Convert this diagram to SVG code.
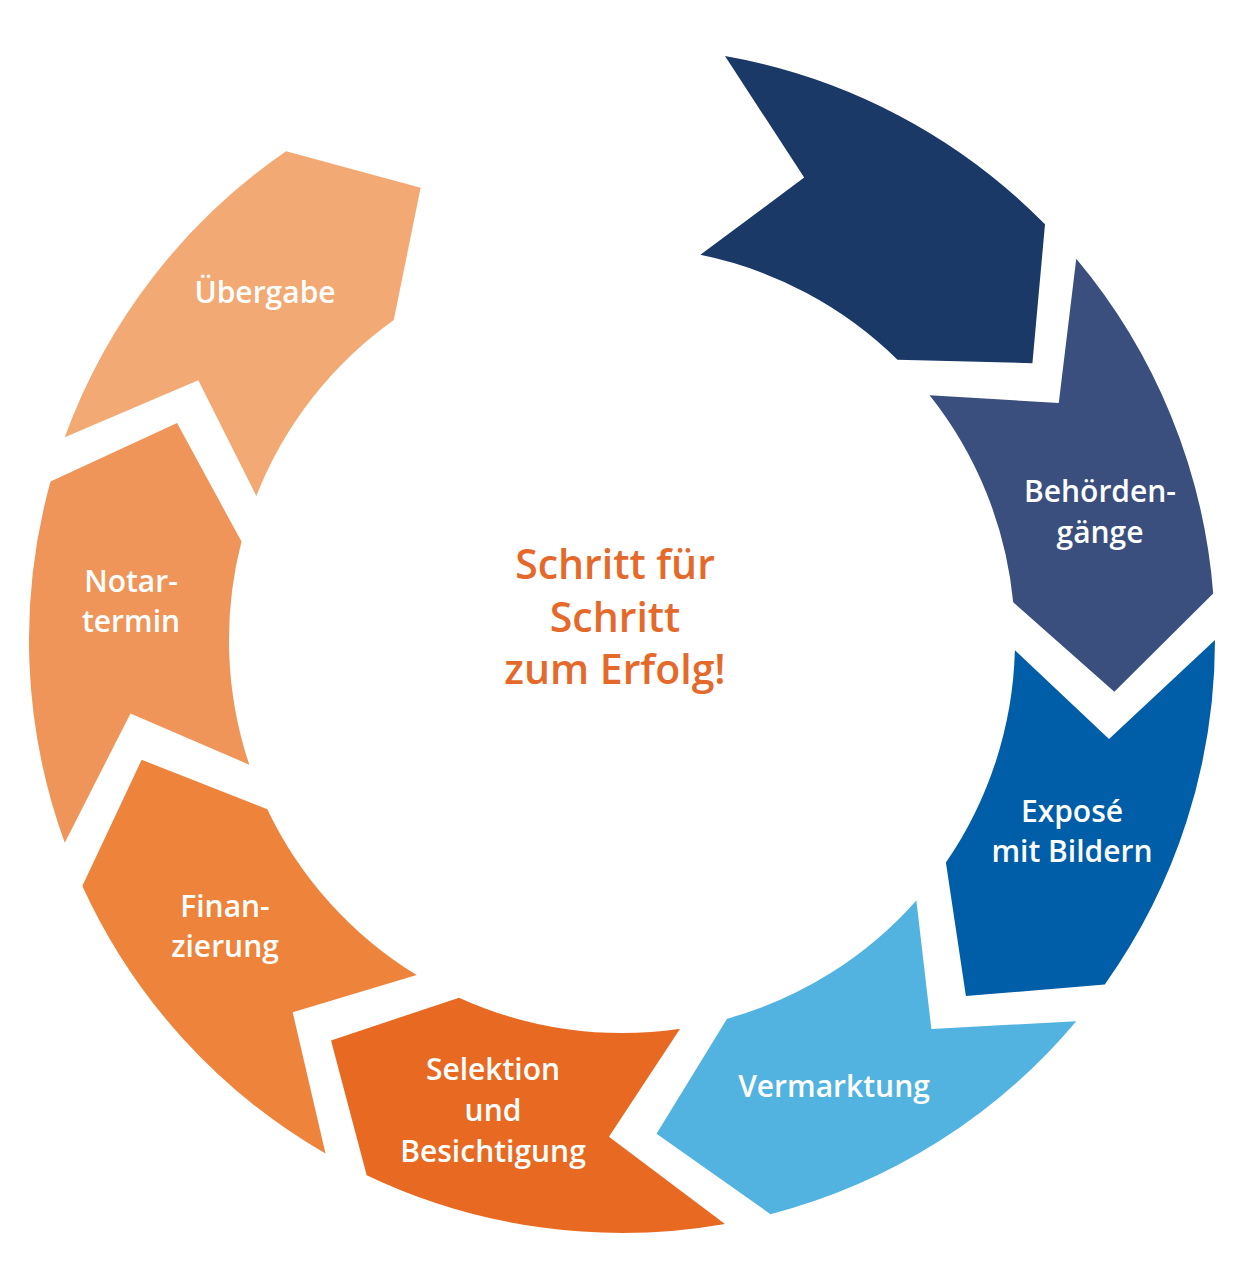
<svg xmlns="http://www.w3.org/2000/svg" xmlns:xlink="http://www.w3.org/1999/xlink" width="1249" height="1280" viewBox="0 0 1249 1280">
<defs>
<style>
.l{font-family:"Open Sans","Liberation Sans",sans-serif;font-weight:600;font-size:30px;fill:#fff;text-anchor:middle}
.c{font-family:"Open Sans","Liberation Sans",sans-serif;font-weight:600;font-size:41px;fill:#e4692a;text-anchor:middle}
</style>
<path id="seg" d="M622,47 A593,593 0 0 1 966.4,157.2 L978.1,296.1 L844.6,316.1 A393,393 0 0 0 632.3,247.1 L721.1,153 Z"/>
</defs>
<rect width="1249" height="1280" fill="#fff"/>
<g id="s1"><use xlink:href="#seg" href="#seg" transform="rotate(10 622 640)" fill="#1b3967"/></g>
<g id="s2"><use xlink:href="#seg" href="#seg" transform="rotate(50 622 640)" fill="#3a4f7e"/>
<text class="l" x="1100" y="502">Behörden-</text><text class="l" x="1100" y="543">gänge</text></g>
<g id="s3"><use xlink:href="#seg" href="#seg" transform="rotate(90 622 640)" fill="#005ea8"/>
<text class="l" x="1072" y="822">Exposé</text><text class="l" x="1072" y="862">mit Bildern</text></g>
<g id="s4"><use xlink:href="#seg" href="#seg" transform="rotate(130 622 640)" fill="#52b3e0"/>
<text class="l" x="834" y="1097">Vermarktung</text></g>
<g id="s5"><use xlink:href="#seg" href="#seg" transform="rotate(170 622 640)" fill="#e86a22"/>
<text class="l" x="493" y="1080">Selektion</text><text class="l" x="493" y="1121">und</text><text class="l" x="493" y="1162">Besichtigung</text></g>
<g id="s6"><use xlink:href="#seg" href="#seg" transform="rotate(210 622 640)" fill="#ee833c"/>
<text class="l" x="225" y="917">Finan-</text><text class="l" x="225" y="957">zierung</text></g>
<g id="s7"><use xlink:href="#seg" href="#seg" transform="rotate(250 622 640)" fill="#f0955a"/>
<text class="l" x="131" y="592">Notar-</text><text class="l" x="131" y="632">termin</text></g>
<g id="s8"><use xlink:href="#seg" href="#seg" transform="rotate(290 622 640)" fill="#f3a973"/>
<text class="l" x="265" y="303">Übergabe</text></g>
<g id="center"><text class="c" x="615" y="579">Schritt für</text><text class="c" x="615" y="632">Schritt</text><text class="c" x="615" y="684">zum Erfolg!</text></g>
<g id="connectors"/>
</svg>
